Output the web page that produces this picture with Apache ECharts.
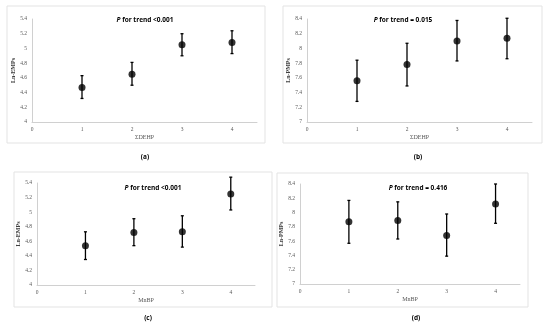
<!DOCTYPE html>
<html>
<head>
<meta charset="utf-8">
<script src="https://cdn.jsdelivr.net/npm/echarts@6/dist/echarts.min.js"></script>
<style>html,body{margin:0;padding:0;background:#fff}#c{width:550px;height:325px}</style>
</head>
<body>
<div id="c"></div>
<script>
// Quartile groups
var groups = [1, 2, 3, 4];
// (a) ΣDEHP vs Ln-EMPs
var meanA = [4.47, 4.65, 5.05, 5.08];
var lowA  = [4.32, 4.50, 4.90, 4.93];
var highA = [4.63, 4.81, 5.20, 5.24];
// (b) ΣDEHP vs Ln-PMPs
var meanB = [7.56, 7.78, 8.10, 8.14];
var lowB  = [7.28, 7.49, 7.83, 7.86];
var highB = [7.84, 8.07, 8.38, 8.41];
// (c) MnBP vs Ln-EMPs
var meanC = [4.54, 4.72, 4.73, 5.25];
var lowC  = [4.35, 4.54, 4.52, 5.03];
var highC = [4.73, 4.91, 4.95, 5.48];
// (d) MnBP vs Ln-PMPs
var meanD = [7.87, 7.89, 7.68, 8.12];
var lowD  = [7.57, 7.63, 7.39, 7.85];
var highD = [8.17, 8.15, 7.98, 8.40];

var panelTitles = ['for trend <0.001', 'for trend = 0.015', 'for trend <0.001', 'for trend = 0.416'];
var captions = ['(a)', '(b)', '(c)', '(d)'];
var xNames = ['\u03A3DEHP', '\u03A3DEHP', 'MnBP', 'MnBP'];
var yNames = ['Ln-EMPs', 'Ln-PMPs', 'Ln-EMPs', 'Ln-PMPs'];
var yMins = [4, 7, 4, 7];
var yMaxs = [5.4, 8.4, 5.4, 8.4];

var panels = [
  {mean: meanA, low: lowA, high: highA},
  {mean: meanB, low: lowB, high: highB},
  {mean: meanC, low: lowC, high: highC},
  {mean: meanD, low: lowD, high: highD}
];

var gridPos = [
  {left: 32, width: 225, top: 19, height: 103},
  {left: 307, width: 225, top: 19, height: 103},
  {left: 37, width: 218, top: 183, height: 102},
  {left: 300, width: 220, top: 184, height: 100}
];
var boxes = [
  {x: 7, y: 6, w: 258, h: 137},
  {x: 283, y: 6, w: 259, h: 137},
  {x: 14, y: 172, w: 258, h: 135},
  {x: 277, y: 173, w: 251, h: 134}
];
var titlePos = [{x: 140, y: 12}, {x: 398, y: 12}, {x: 148, y: 180}, {x: 413, y: 180}];
var capPos = [{x: 140, y: 149}, {x: 413, y: 149}, {x: 143, y: 310}, {x: 411, y: 310}];

var serif = '"Liberation Serif", "DejaVu Serif", serif';
var sans = '"Open Sans", "Liberation Sans", sans-serif';

var option = {
  animation: false,
  backgroundColor: '#fff',
  grid: [], xAxis: [], yAxis: [], series: [], title: [], graphic: []
};

boxes.forEach(function (b) {
  option.graphic.push({type: 'rect', shape: {x: b.x, y: b.y, width: b.w, height: b.h},
    style: {fill: 'none', stroke: '#e3e3e3', lineWidth: 1}, z: -1});
});

panels.forEach(function (p, i) {
  var g = gridPos[i];
  option.grid.push({left: g.left, top: g.top, width: g.width, height: g.height});
  option.xAxis.push({
    type: 'value', gridIndex: i, min: 0, max: 4.5, interval: 1,
    name: xNames[i], nameLocation: 'middle', nameGap: 12,
    nameTextStyle: {fontFamily: serif, fontSize: 6, color: '#595959'},
    axisLine: {lineStyle: {color: '#d0d0d0', width: 1}},
    axisTick: {show: false},
    splitLine: {show: false},
    axisLabel: {fontFamily: serif, fontSize: 5.5, color: '#595959', margin: 5,
      formatter: function (v) { return v % 1 === 0 ? String(v) : ''; }}
  });
  option.yAxis.push({
    type: 'value', gridIndex: i, min: yMins[i], max: yMaxs[i], interval: 0.2,
    name: yNames[i], nameLocation: 'middle', nameGap: 12, nameRotate: 90,
    nameTextStyle: {fontFamily: serif, fontSize: 6, color: '#404040', fontWeight: 'bold'},
    axisLine: {show: true, lineStyle: {color: '#d0d0d0', width: 1}},
    axisTick: {show: false},
    splitLine: {show: false},
    axisLabel: {fontFamily: serif, fontSize: 5.5, color: '#595959', margin: 5,
      formatter: function (v) { return String(Math.round(v * 10) / 10); }}
  });
  var errData = groups.map(function (x, k) { return [x, p.low[k], p.high[k]]; });
  option.series.push({
    type: 'custom', xAxisIndex: i, yAxisIndex: i,
    data: errData,
    renderItem: function (params, api) {
      var x = api.value(0);
      var lo = api.coord([x, api.value(1)]);
      var hi = api.coord([x, api.value(2)]);
      var c = 1.5;
      var st = {stroke: '#000', lineWidth: 1.3};
      return {type: 'group', children: [
        {type: 'line', shape: {x1: lo[0], y1: lo[1], x2: hi[0], y2: hi[1]}, style: st},
        {type: 'line', shape: {x1: lo[0] - c, y1: lo[1], x2: lo[0] + c, y2: lo[1]}, style: st},
        {type: 'line', shape: {x1: hi[0] - c, y1: hi[1], x2: hi[0] + c, y2: hi[1]}, style: st}
      ]};
    },
    z: 2
  });
  option.series.push({
    type: 'scatter', xAxisIndex: i, yAxisIndex: i,
    data: groups.map(function (x, k) { return [x, p.mean[k]]; }),
    symbol: 'circle', symbolSize: 7,
    itemStyle: {color: '#000'}, z: 3
  });
  option.title.push({
    text: '{p|P} ' + panelTitles[i],
    left: titlePos[i].x, top: titlePos[i].y, textAlign: 'center',
    textStyle: {fontFamily: sans, fontSize: 6.5, fontWeight: 'bold', color: '#000',
      rich: {p: {fontFamily: sans, fontSize: 6.5, fontWeight: 'bold', fontStyle: 'italic', color: '#000'}}}
  });
  option.title.push({
    text: captions[i], left: capPos[i].x, top: capPos[i].y, textAlign: 'center',
    textStyle: {fontFamily: sans, fontSize: 6.5, fontWeight: 'bold', color: '#000'}
  });
});

var chart = echarts.init(document.getElementById('c'), null, {renderer: 'canvas'});
chart.setOption(option);
</script>
</body>
</html>
